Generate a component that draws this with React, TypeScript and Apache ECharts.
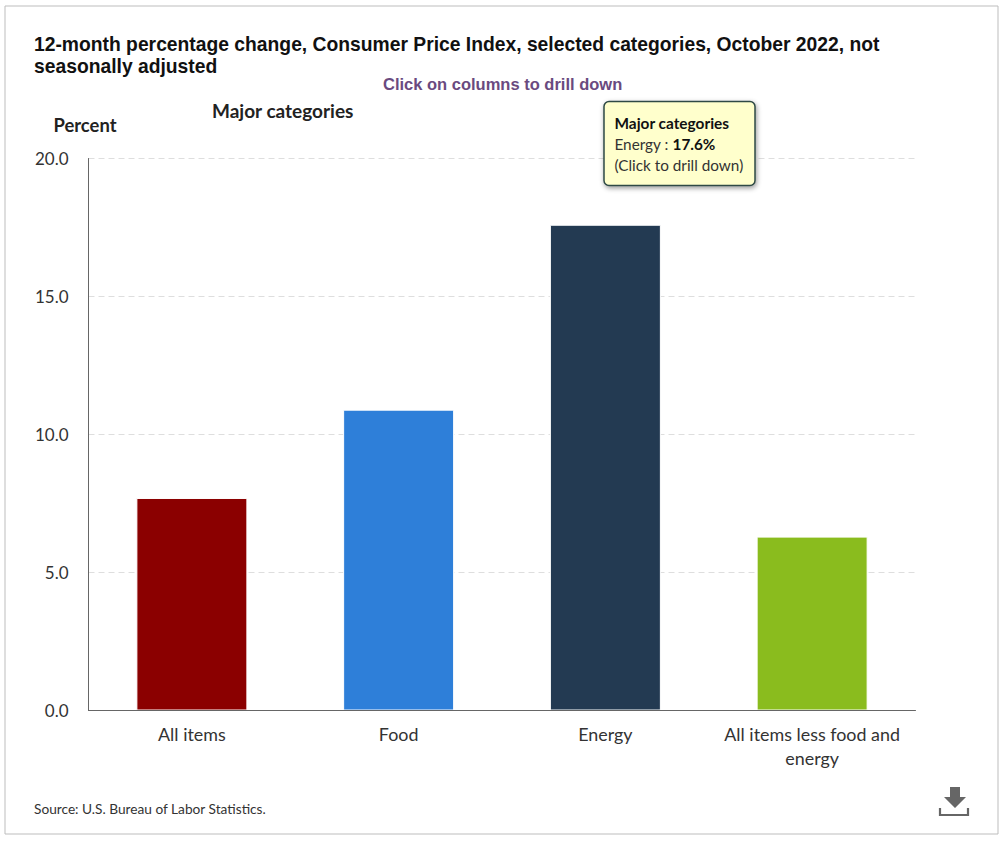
import React, { useEffect, useRef } from "react";
import * as echarts from "echarts";

const categories = ["All items", "Food", "Energy", "All items less food and energy"];
const values = [7.7, 10.9, 17.6, 6.3];
const colors = ["#8b0000", "#2e7fd9", "#233a52", "#8abc1e"];
const yTicks = { min: 0, max: 20, interval: 5 };

const titleText = "12-month percentage change, Consumer Price Index, selected categories, October 2022, not\nseasonally adjusted";
const drillText = "Click on columns to drill down";
const groupText = "Major categories";
const yName = "Percent";
const sourceText = "Source: U.S. Bureau of Labor Statistics.";

const UI = "Lato, 'Open Sans', sans-serif";
const HEAD = "'Liberation Sans', Arial, sans-serif";

export default function App() {
  const ref = useRef<HTMLDivElement>(null);
  useEffect(() => {
    document.body.style.margin = "0";
    const chart = echarts.init(ref.current!, null, { renderer: "svg" });
    chart.setOption({
      animation: false,
      backgroundColor: "#fff",
      grid: { left: 88.5, top: 158.5, width: 827, height: 552, containLabel: false },
      title: [
        { text: titleText, left: 34, top: 33, padding: 0, textStyle: { fontFamily: HEAD, fontSize: 19.3, fontWeight: "bold", color: "#111", lineHeight: 22.5 } },
        { text: drillText, left: 383, top: 75, padding: 0, textStyle: { fontFamily: HEAD, fontSize: 16.5, fontWeight: "bold", color: "#6a4a80" } },
        { text: groupText, left: 212, top: 101, padding: 0, textStyle: { fontFamily: UI, fontSize: 19, fontWeight: "bold", color: "#222" } },
        { text: sourceText, left: 34, top: 801, padding: 0, textStyle: { fontFamily: UI, fontSize: 13.7, fontWeight: "normal", color: "#333" } },
      ],
      xAxis: {
        type: "category",
        data: categories,
        z: 5,
        axisLine: { lineStyle: { color: "#666", width: 1 } },
        axisTick: { show: false },
        axisLabel: { fontFamily: UI, fontSize: 17.9, color: "#333", margin: 11, lineHeight: 24, interval: 0, formatter: (v: string) => v.replace(" and ", " and\n") },
      },
      yAxis: {
        type: "value",
        ...yTicks,
        name: yName,
        nameLocation: "end",
        nameGap: 25,
        nameTextStyle: { fontFamily: UI, fontSize: 18.4, fontWeight: "bold", color: "#222", align: "left", padding: [0, 0, 0, -35] },
        axisLine: { show: true, lineStyle: { color: "#666", width: 1 } },
        axisTick: { show: false },
        axisLabel: { fontFamily: UI, fontSize: 17, color: "#333", margin: 20, formatter: (v: number) => v.toFixed(1) },
        splitLine: { lineStyle: { color: "#dedede", type: [6, 4], width: 1 } },
      },
      series: [
        {
          type: "bar",
          barWidth: 111,
          z: 2,
          data: values.map((value, i) => ({ value, itemStyle: { color: colors[i], borderColor: "#ffffff", borderWidth: 1 } })),
        },
      ],
      graphic: [
        { type: "rect", silent: true, z: -1, shape: { x: 5, y: 6, width: 993, height: 828 }, style: { fill: "none", stroke: "#bdbdbd", lineWidth: 1 } },
        {
          type: "rect", z: 50,
          shape: { x: 604, y: 101.5, width: 151, height: 84, r: 5 },
          style: { fill: "#ffffcc", stroke: "#2f4a45", lineWidth: 1.5, shadowBlur: 5, shadowOffsetX: 1, shadowOffsetY: 2, shadowColor: "rgba(0,0,0,0.4)" },
        },
        { type: "text", z: 51, x: 614.5, y: 115, style: { text: groupText, font: `bold 15.4px ${UI}`, fill: "#111" } },
        {
          type: "text", z: 51, x: 614.5, y: 136.5,
          style: {
            text: `{n|${categories[2]} : }{b|${values[2].toFixed(1)}%}`,
            rich: {
              n: { font: `15.3px ${UI}`, fill: "#333" },
              b: { font: `bold 15.3px ${UI}`, fill: "#111" },
            },
          },
        },
        { type: "text", z: 51, x: 614.5, y: 157, style: { text: "(Click to drill down)", font: `15.3px ${UI}`, fill: "#333" } },
        { type: "polygon", shape: { points: [[950, 787], [960, 787], [960, 797], [966, 797], [955, 808], [944, 797], [950, 797]] }, style: { fill: "#666" } },
        { type: "polyline", shape: { points: [[940, 808], [940, 815], [968, 815], [968, 808]] }, style: { fill: "none", stroke: "#666", lineWidth: 2.2 } },
      ],
    });
    return () => chart.dispose();
  }, []);
  return <div ref={ref} style={{ width: 1007, height: 841 }} />;
}
